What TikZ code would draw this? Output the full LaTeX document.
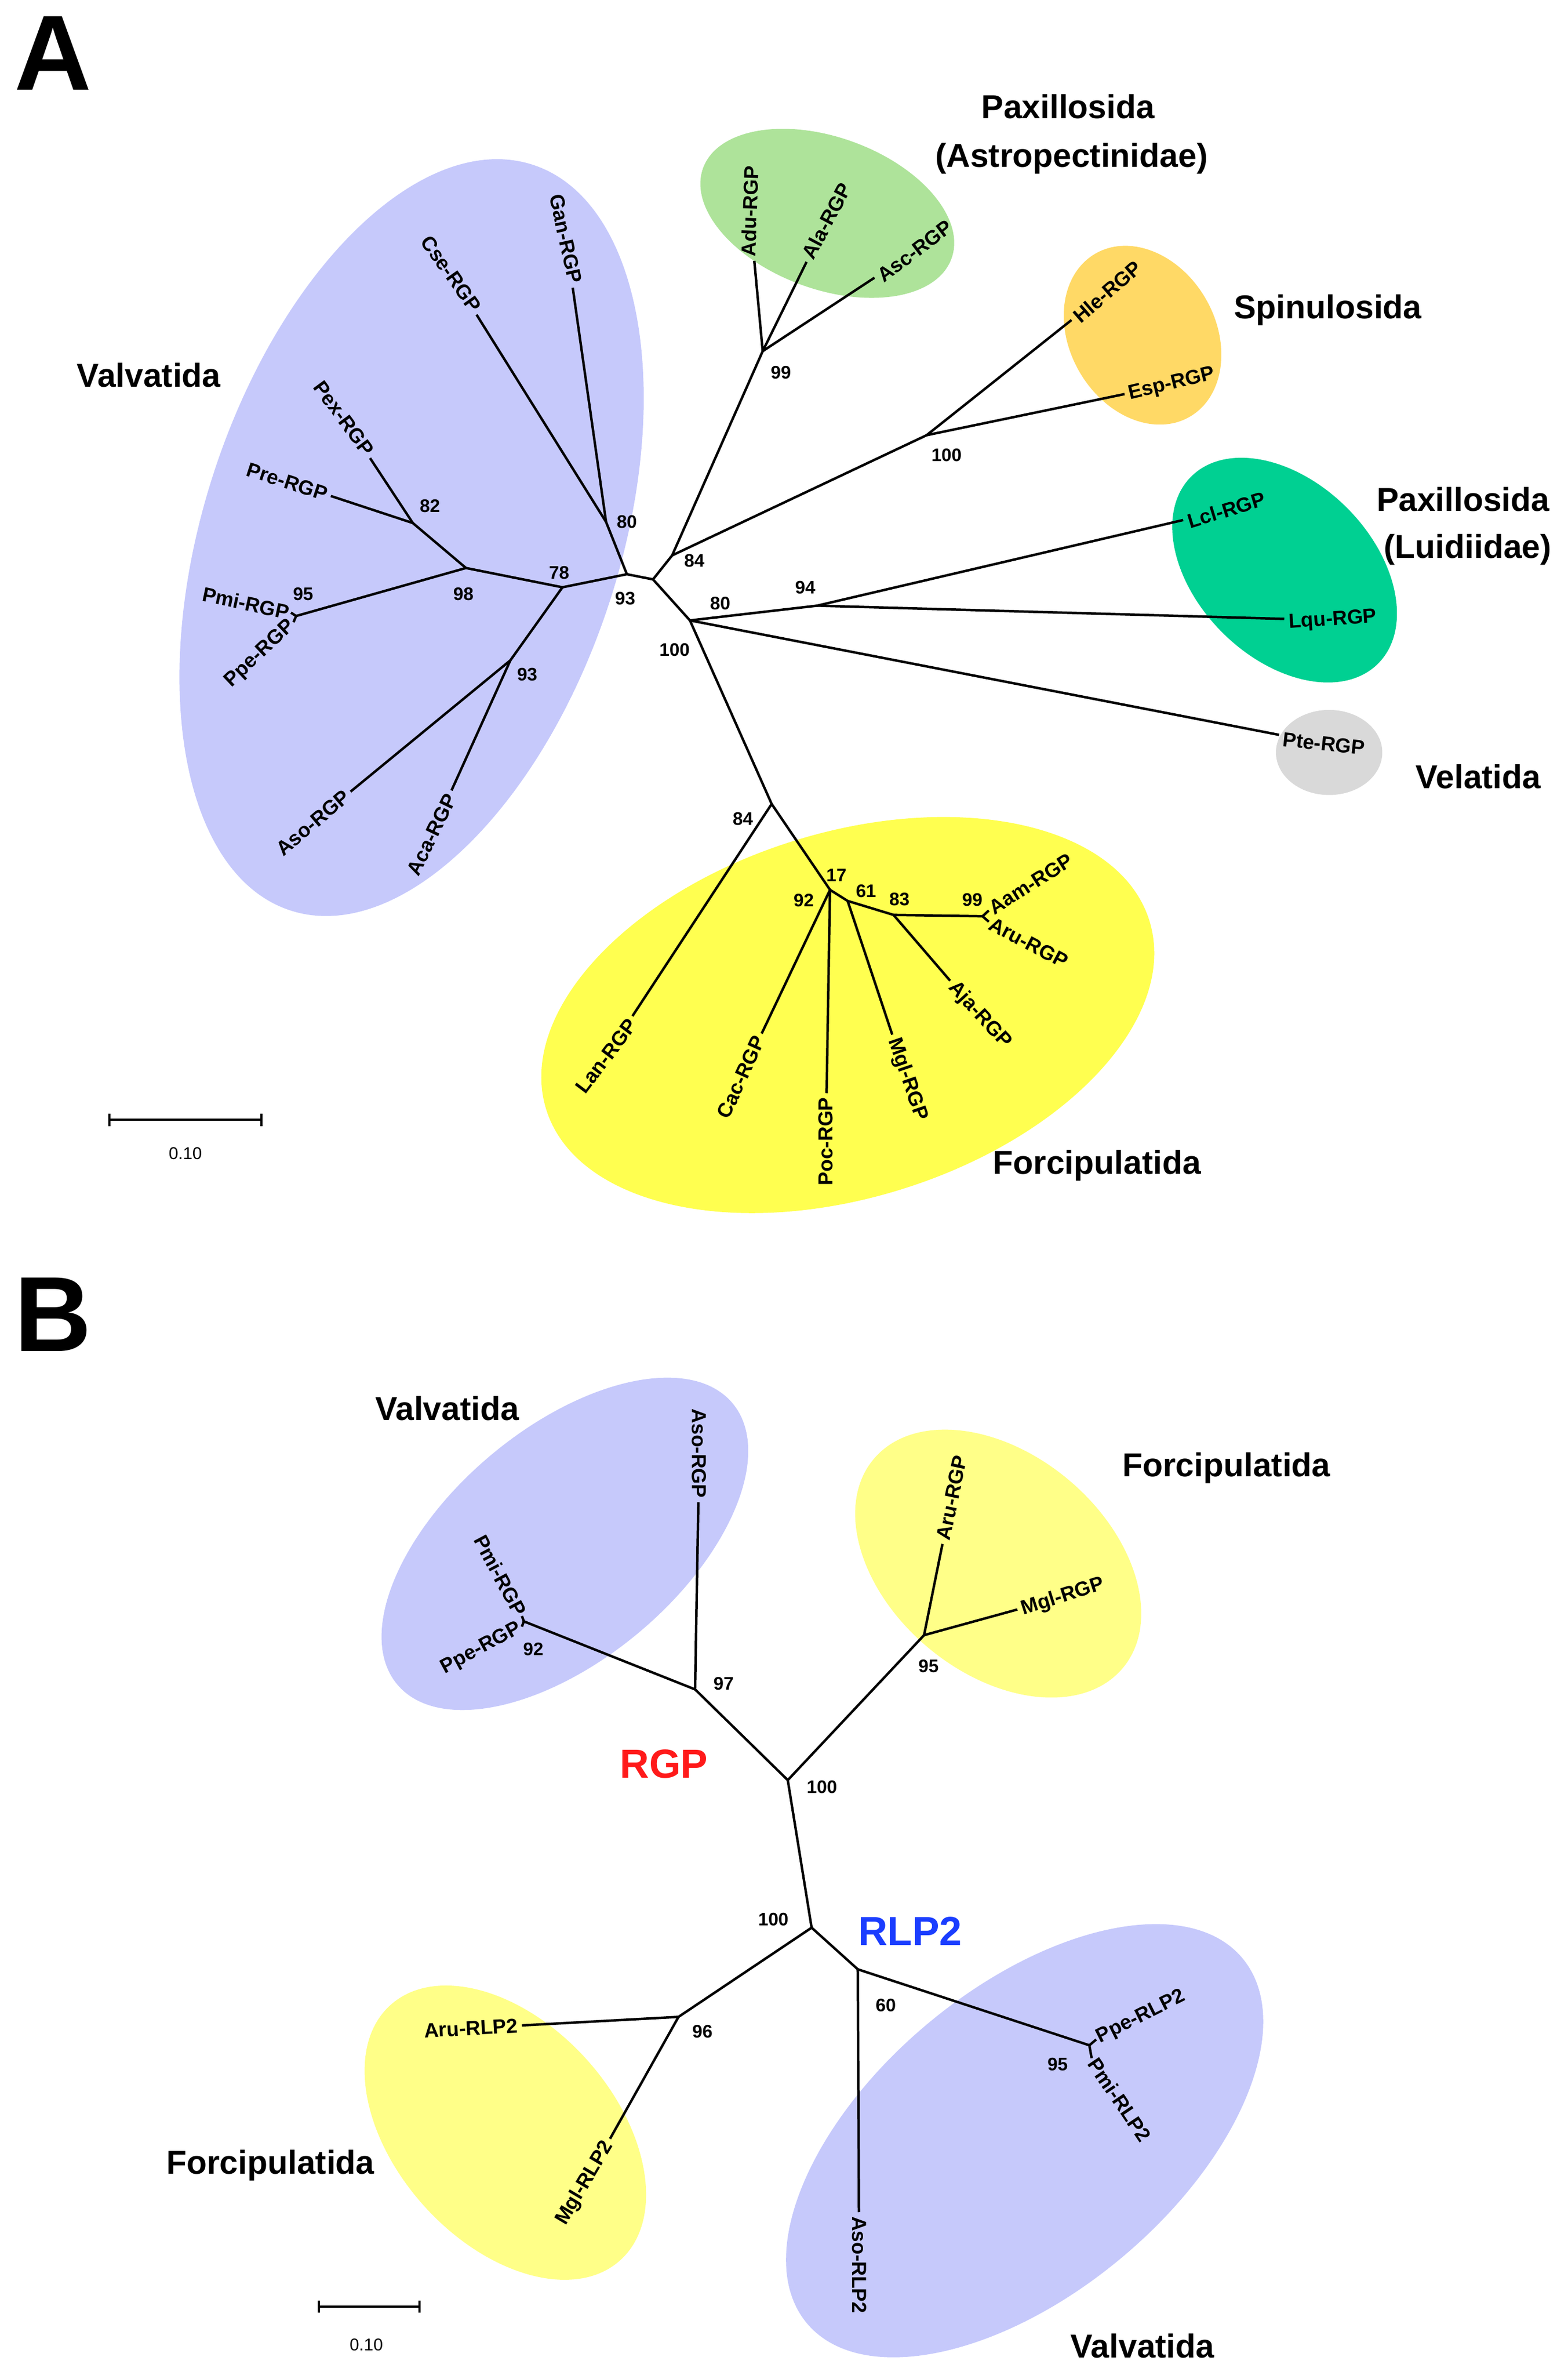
\documentclass[tikz,border=0pt]{standalone}
\usepackage{fontspec}
\setmainfont{Liberation Sans}
\definecolor{lav}{HTML}{C6C9FB}
\definecolor{grn}{HTML}{AEE39A}
\definecolor{org}{HTML}{FFD966}
\definecolor{teal2}{HTML}{00D092}
\definecolor{gry}{HTML}{D9D9D9}
\definecolor{yelA}{HTML}{FFFF50}
\definecolor{yelB}{HTML}{FFFF88}
\definecolor{rgpred}{HTML}{FF1A1A}
\definecolor{rlpblue}{HTML}{1A3DFF}
\begin{document}
\begin{tikzpicture}[x=0.025cm,y=-0.025cm,
  leaf/.style={font=\bfseries\fontsize{9.5}{10}\selectfont,inner sep=1.8pt},
  bs/.style={font=\bfseries\fontsize{8.5}{9}\selectfont,inner sep=0pt},
  head/.style={font=\bfseries\fontsize{15.5}{18}\selectfont,inner sep=0pt,align=center},
  big/.style={font=\bfseries\fontsize{50}{50}\selectfont,inner sep=0pt},
  br/.style={line width=1.15pt},
  sc/.style={font=\fontsize{8}{9}\selectfont,inner sep=0pt}]
\useasboundingbox (0,0) rectangle (1032,1563);
% ---------- panel A blobs
\fill[lav,rotate around={72:(270.9,353.8)}] (270.9,353.8) ellipse [x radius=258,y radius=137];
\fill[yelA,rotate around={17.4:(558,668)}] (558,668) ellipse [x radius=208,y radius=120];
\fill[grn,rotate around={-20:(544.5,140.4)}] (544.5,140.4) ellipse [x radius=87,y radius=50];
\fill[org,rotate around={-60:(752,220.6)}] (752,220.6) ellipse [x radius=62,y radius=48];
\fill[teal2,rotate around={-45:(845.5,375.2)}] (845.5,375.2) ellipse [x radius=87,y radius=58];
\fill[gry] (874.8,495.2) ellipse [x radius=35,y radius=28];
% ---------- panel B blobs
\fill[lav,rotate around={40:(371.8,1016)}] (371.8,1016) ellipse [x radius=144,y radius=76];
\fill[yelB,rotate around={-40:(657,1029)}] (657,1029) ellipse [x radius=107,y radius=72];
\fill[yelB,rotate around={-48:(332.6,1403.5)}] (332.6,1403.5) ellipse [x radius=113,y radius=72];
\fill[lav,rotate around={40:(674.4,1408.8)}] (674.4,1408.8) ellipse [x radius=187,y radius=100];

% ---------- panel A labels
\node[big] (lA) at (35,35) {A};
\node[head] (hValA) at (98,247) {Valvatida};
\node[head] (hPaxA) at (703,70.3) {Paxillosida};
\node[head] (hAst) at (705.3,104.5) {(Astropectinidae)};
\node[head] (hSpi) at (874,203.9) {Spinulosida};
\node[head] (hPaxL) at (963,328.5) {Paxillosida};
\node[head] (hLui) at (966,361.6) {(Luidiidae)};
\node[head] (hVel) at (973,511) {Velatida};
\node[head] (hForA) at (722,767) {Forcipulatida};

% ---------- panel A internal nodes
\coordinate (nL) at (412.6,377.9);
\coordinate (nR) at (429.8,381.3);
\coordinate (n80) at (398.9,343.5);
\coordinate (n78) at (370.2,386.5);
\coordinate (n98) at (306.7,373.8);
\coordinate (n82) at (271.7,344.2);
\coordinate (n95a) at (194.9,405.4);
\coordinate (pmiT) at (191.5,403.2);
\coordinate (ppeT) at (193.2,409.5);
\coordinate (n93b) at (335.9,434.6);
\coordinate (n84) at (442.4,365.5);
\coordinate (n99) at (502,231.1);
\coordinate (n100) at (609.9,286.4);
\coordinate (nX) at (454.1,408.3);
\coordinate (n94) at (537.8,398.6);
\coordinate (n84b) at (507.9,529.1);
\coordinate (n17) at (546.3,585.6);
\coordinate (n61) at (557.9,592.9);
\coordinate (n83) at (588.1,602.1);
\coordinate (n99b) at (646.7,603);
\coordinate (aamT) at (650.8,599.2);
\coordinate (aruT) at (650.8,606.6);

% leaves A
\node[leaf,rotate=-77.5,anchor=east] (gan) at (379.4,188.8) {Gan-RGP};
\node[leaf,rotate=-54.6,anchor=east] (cse) at (315.2,206) {Cse-RGP};
\node[leaf,rotate=-53.6,anchor=east] (pex) at (244.9,300.5) {Pex-RGP};
\node[leaf,rotate=-18,anchor=east] (pre) at (217.8,326.3) {Pre-RGP};
\node[leaf,rotate=-12,anchor=east,inner sep=0.8pt] (pmi) at (pmiT) {Pmi-RGP};
\node[leaf,rotate=43.5,anchor=east,inner sep=0.8pt] (ppe) at (ppeT) {Ppe-RGP};
\node[leaf,rotate=40.3,anchor=east] (aso) at (230.4,520.6) {Aso-RGP};
\node[leaf,rotate=64,anchor=east] (aca) at (298,520.6) {Aca-RGP};
\node[leaf,rotate=88,anchor=west] (adu) at (492.3,171.5) {Adu-RGP};
\node[leaf,rotate=62,anchor=west] (ala) at (530,171.9) {Ala-RGP};
\node[leaf,rotate=37,anchor=west] (asc) at (576.8,184.4) {Asc-RGP};
\node[leaf,rotate=41,anchor=west] (hle) at (706.1,211.6) {Hle-RGP};
\node[leaf,rotate=13.5,anchor=west] (esp) at (740.4,260.3) {Esp-RGP};
\node[leaf,rotate=17,anchor=west] (lcl) at (779.3,344.1) {Lcl-RGP};
\node[leaf,rotate=3.8,anchor=west] (lqu) at (845.5,410.3) {Lqu-RGP};
\node[leaf,rotate=-6,anchor=west] (pte) at (841.6,486.2) {Pte-RGP};
\node[leaf,rotate=53,anchor=east] (lan) at (417.9,669.9) {Lan-RGP};
\node[leaf,rotate=65.4,anchor=east] (cac) at (500.9,680) {Cac-RGP};
\node[leaf,rotate=90,anchor=east] (poc) at (543.5,719.4) {Poc-RGP};
\node[leaf,rotate=-71,anchor=west] (mgl) at (587,681) {Mgl-RGP};
\node[leaf,rotate=-47.6,anchor=west] (aja) at (624.7,646) {Aja-RGP};
\node[leaf,rotate=32.3,anchor=west,inner sep=0.8pt] (aam) at (aamT) {Aam-RGP};
\node[leaf,rotate=-27.8,anchor=west,inner sep=0.8pt] (aru) at (aruT) {Aru-RGP};

% branches A
\draw[br] (nL) -- (nR);
\draw[br] (nL) -- (n80);
\draw[br] (nL) -- (n78);
\draw[br] (n80) -- (gan);
\draw[br] (n80) -- (cse);
\draw[br] (n78) -- (n98);
\draw[br] (n78) -- (n93b);
\draw[br] (n98) -- (n82);
\draw[br] (n98) -- (n95a);
\draw[br] (n82) -- (pex);
\draw[br] (n82) -- (pre);
\draw[br] (n95a) -- (pmiT);
\draw[br] (n95a) -- (ppeT);
\draw[br] (n93b) -- (aso);
\draw[br] (n93b) -- (aca);
\draw[br] (nR) -- (n84);
\draw[br] (nR) -- (nX);
\draw[br] (n84) -- (n99);
\draw[br] (n84) -- (n100);
\draw[br] (n99) -- (adu);
\draw[br] (n99) -- (ala);
\draw[br] (n99) -- (asc);
\draw[br] (n100) -- (hle);
\draw[br] (n100) -- (esp);
\draw[br] (nX) -- (n94);
\draw[br] (nX) -- (pte);
\draw[br] (n94) -- (lcl);
\draw[br] (n94) -- (lqu);
\draw[br] (nX) -- (n84b);
\draw[br] (n84b) -- (lan);
\draw[br] (n84b) -- (n17);
\draw[br] (n17) -- (cac);
\draw[br] (n17) -- (poc);
\draw[br] (n17) -- (n61);
\draw[br] (n61) -- (mgl);
\draw[br] (n61) -- (n83);
\draw[br] (n83) -- (aja);
\draw[br] (n83) -- (n99b);
\draw[br] (n99b) -- (aamT);
\draw[br] (n99b) -- (aruT);

% bootstrap A
\node[bs] (b1) at (412.6,343.5) {80};
\node[bs] (b2) at (411.5,394) {93};
\node[bs] (b3) at (368,377) {78};
\node[bs] (b4) at (305,391) {98};
\node[bs] (b5) at (283,333) {82};
\node[bs] (b6) at (199.5,391) {95};
\node[bs] (b7) at (347,444) {93};
\node[bs] (b8) at (457,369) {84};
\node[bs] (b9) at (514,245) {99};
\node[bs] (b10) at (623,299.5) {100};
\node[bs] (b11) at (474,397) {80};
\node[bs] (b12) at (530,386.5) {94};
\node[bs] (b13) at (444,427.5) {100};
\node[bs] (b14) at (489,539) {84};
\node[bs] (b15) at (550.5,576) {17};
\node[bs] (b16) at (529,592.5) {92};
\node[bs] (b17) at (570,586.5) {61};
\node[bs] (b18) at (592,592) {83};
\node[bs] (b19) at (640,592) {99};

% scale A
\coordinate (sa1) at (72,737);
\coordinate (sa2) at (172,737);
\draw[line width=1pt] (sa1) -- (sa2);
\draw[line width=1pt] (72,733) -- (72,741) (172,733) -- (172,741);
\node[sc] (sla) at (122,759) {0.10};

% ---------- panel B
\node[big] (lB) at (35,865) {B};
\node[head] (hValB) at (294.3,927) {Valvatida};
\node[head] (hForB) at (807.2,966) {Forcipulatida};
\node[head] (hForB2) at (178,1425) {Forcipulatida};
\node[head] (hValB2) at (752,1544) {Valvatida};
\node[font=\bfseries\fontsize{19}{20}\selectfont,text=rgpred,inner sep=0pt] (tRGP) at (437,1161) {RGP};
\node[font=\bfseries\fontsize{19}{20}\selectfont,text=rlpblue,inner sep=0pt] (tRLP) at (599,1271) {RLP2};

\coordinate (nT) at (518.5,1171.5);
\coordinate (n97) at (457.5,1111.8);
\coordinate (n92) at (344.8,1067);
\coordinate (bpmiT) at (343.5,1063.5);
\coordinate (bppeT) at (343.5,1070.5);
\coordinate (n95) at (608.2,1076.1);
\coordinate (nB) at (534.2,1268.6);
\coordinate (n96) at (446.6,1327.3);
\coordinate (n60) at (564.6,1296);
\coordinate (n95b) at (717,1346);
\coordinate (rppeT) at (721.5,1342.2);
\coordinate (rpmiT) at (718.5,1354.5);

\node[leaf,rotate=-90,anchor=east] (basoR) at (460.2,988.6) {Aso-RGP};
\node[leaf,rotate=-62,anchor=east,inner sep=0.8pt] (bpmi) at (bpmiT) {Pmi-RGP};
\node[leaf,rotate=28.4,anchor=east,inner sep=0.8pt] (bppe) at (bppeT) {Ppe-RGP};
\node[leaf,rotate=78,anchor=west] (baru) at (620,1016) {Aru-RGP};
\node[leaf,rotate=17.7,anchor=west] (bmgl) at (670,1060.4) {Mgl-RGP};
\node[leaf,rotate=3,anchor=east] (raru) at (343.5,1333) {Aru-RLP2};
\node[leaf,rotate=59.3,anchor=east] (rmgl) at (402.2,1407.9) {Mgl-RLP2};
\node[leaf,rotate=-90,anchor=west] (raso) at (565.5,1455.8) {Aso-RLP2};
\node[leaf,rotate=26.6,anchor=west,inner sep=0.8pt] (rppe) at (rppeT) {Ppe-RLP2};
\node[leaf,rotate=-56,anchor=west,inner sep=0.8pt] (rpmi) at (rpmiT) {Pmi-RLP2};

\draw[br] (nT) -- (nB);
\draw[br] (nT) -- (n97);
\draw[br] (nT) -- (n95);
\draw[br] (n97) -- (basoR);
\draw[br] (n97) -- (n92);
\draw[br] (n92) -- (bpmiT);
\draw[br] (n92) -- (bppeT);
\draw[br] (n95) -- (baru);
\draw[br] (n95) -- (bmgl);
\draw[br] (nB) -- (n96);
\draw[br] (nB) -- (n60);
\draw[br] (n96) -- (raru);
\draw[br] (n96) -- (rmgl);
\draw[br] (n60) -- (raso);
\draw[br] (n60) -- (n95b);
\draw[br] (n95b) -- (rppeT);
\draw[br] (n95b) -- (rpmiT);

\node[bs] (c1) at (476.3,1108) {97};
\node[bs] (c2) at (351,1085.5) {92};
\node[bs] (c3) at (611.2,1096.5) {95};
\node[bs] (c4) at (541,1176) {100};
\node[bs] (c5) at (509,1263) {100};
\node[bs] (c6) at (462.3,1337) {96};
\node[bs] (c7) at (583,1319.5) {60};
\node[bs] (c8) at (696.1,1358.5) {95};

\coordinate (sb1) at (209.8,1518);
\coordinate (sb2) at (276,1518);
\draw[line width=1pt] (sb1) -- (sb2);
\draw[line width=1pt] (209.8,1514) -- (209.8,1522) (276,1514) -- (276,1522);
\node[sc] (slb) at (241.1,1543) {0.10};
\end{tikzpicture}
\end{document}
